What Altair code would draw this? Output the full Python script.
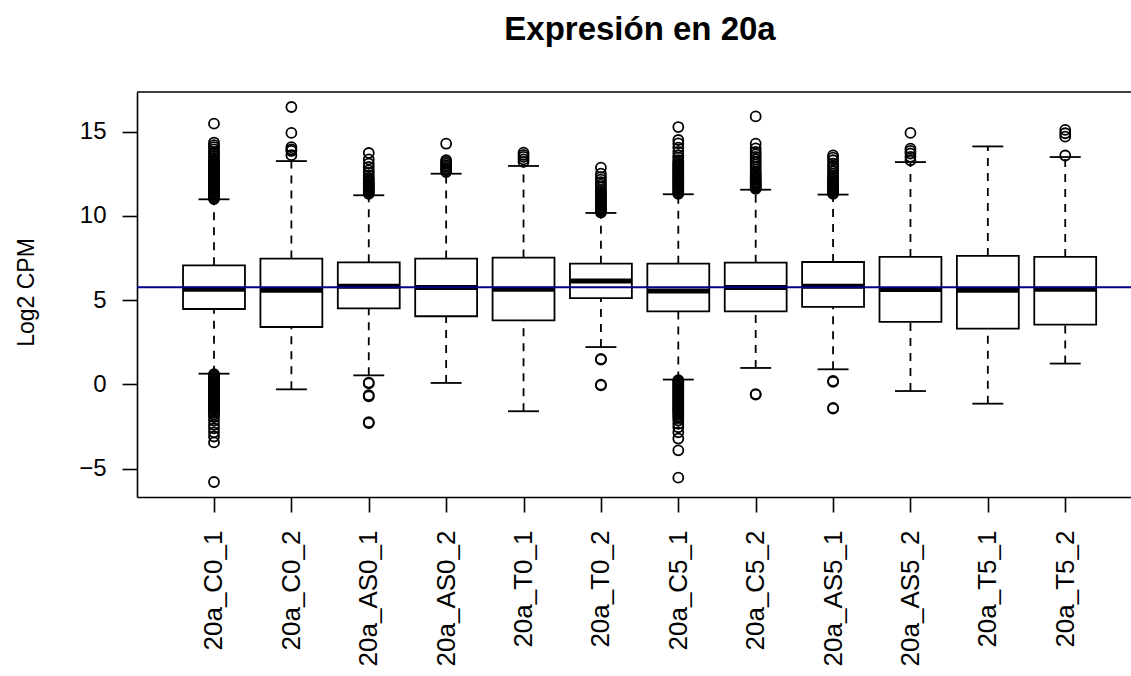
import altair as alt
import pandas as pd

# Samples and their box statistics (log2 CPM)
samples = ["20a_C0_1", "20a_C0_2", "20a_AS0_1", "20a_AS0_2", "20a_T0_1", "20a_T0_2",
           "20a_C5_1", "20a_C5_2", "20a_AS5_1", "20a_AS5_2", "20a_T5_1", "20a_T5_2"]
whisker_low = [0.63, -0.30, 0.53, 0.08, -1.60, 2.21, 0.28, 0.97, 0.89, -0.40, -1.15, 1.23]
q1 = [4.47, 3.40, 4.51, 4.04, 3.80, 5.12, 4.33, 4.33, 4.59, 3.70, 3.30, 3.54]
median = [5.64, 5.58, 5.82, 5.74, 5.64, 6.13, 5.54, 5.74, 5.82, 5.62, 5.58, 5.64]
q3 = [7.06, 7.46, 7.24, 7.46, 7.52, 7.16, 7.16, 7.22, 7.26, 7.56, 7.62, 7.56]
whisker_high = [10.98, 13.25, 11.22, 12.50, 12.96, 10.17, 11.28, 11.55, 11.26, 13.19, 14.12, 13.49]

# Points beyond the whiskers
outliers = {
    "20a_C0_1": [11.0, 11.08, 11.15, 11.22, 11.3, 11.37, 11.45, 11.52, 11.6, 11.68, 11.75,
                 11.83, 11.9, 11.98, 12.05, 12.12, 12.2, 12.28, 12.35, 12.43, 12.5, 12.58,
                 12.66, 12.74, 12.82, 12.9, 12.98, 13.05, 13.12, 13.2, 13.3, 13.42, 13.55,
                 13.7, 13.8, 13.95, 14.08, 14.2, 14.35, 15.47,
                 0.6, 0.52, 0.45, 0.37, 0.3, 0.22, 0.15, 0.07, 0.0, -0.08, -0.15, -0.23,
                 -0.3, -0.38, -0.45, -0.53, -0.6, -0.68, -0.75, -0.83, -0.9, -0.98, -1.05,
                 -1.13, -1.2, -1.28, -1.35, -1.43, -1.5, -1.6, -1.7, -1.8, -1.94, -2.15,
                 -2.4, -2.62, -2.85, -3.1, -3.45, -5.8],
    "20a_C0_2": [13.6, 13.85, 13.95, 14.08, 14.92, 16.46],
    "20a_AS0_1": [11.3, 11.38, 11.45, 11.53, 11.6, 11.68, 11.75, 11.83, 11.9, 11.98, 12.05,
                  12.15, 12.25, 12.4, 12.55, 12.7, 12.9, 13.1, 13.35, 13.73,
                  0.1, 0.05, -0.65, -0.71, -2.25, -2.3],
    "20a_AS0_2": [12.6, 12.7, 12.8, 12.9, 13.0, 13.1, 13.2, 13.3, 14.28],
    "20a_T0_1": [13.2, 13.35, 13.5, 13.62, 13.75],
    "20a_T0_2": [10.2, 10.28, 10.35, 10.43, 10.5, 10.58, 10.65, 10.73, 10.8, 10.88, 10.95,
                 11.03, 11.1, 11.18, 11.25, 11.35, 11.45, 11.55, 11.7, 11.85, 12.0, 12.15,
                 12.3, 12.5, 12.86, 1.46, 1.5, -0.06, -0.02],
    "20a_C5_1": [11.3, 11.38, 11.45, 11.53, 11.6, 11.68, 11.75, 11.83, 11.9, 11.98, 12.05,
                 12.13, 12.2, 12.28, 12.35, 12.43, 12.5, 12.58, 12.65, 12.73, 12.8, 12.88,
                 12.95, 13.03, 13.1, 13.2, 13.3, 13.45, 13.6, 13.8, 14.05, 14.3, 14.5, 15.27,
                 0.25, 0.17, 0.1, 0.02, -0.05, -0.13, -0.2, -0.28, -0.35, -0.43, -0.5, -0.58,
                 -0.65, -0.73, -0.8, -0.88, -0.95, -1.03, -1.1, -1.18, -1.25, -1.33, -1.4,
                 -1.48, -1.55, -1.63, -1.7, -1.8, -1.9, -2.0, -2.15, -2.35, -2.55, -2.85,
                 -3.22, -3.92, -5.54],
    "20a_C5_2": [11.6, 11.68, 11.75, 11.83, 11.9, 11.98, 12.05, 12.13, 12.2, 12.3, 12.4,
                 12.5, 12.6, 12.75, 12.9, 13.05, 13.2, 13.35, 13.5, 13.65, 13.8, 14.0, 14.28,
                 15.9, -0.61, -0.58],
    "20a_AS5_1": [11.3, 11.38, 11.45, 11.53, 11.6, 11.68, 11.75, 11.83, 11.9, 11.98, 12.05,
                  12.15, 12.25, 12.35, 12.5, 12.65, 12.8, 12.95, 13.1, 13.3, 13.45, 13.59,
                  0.14, 0.2, -1.44, -1.4],
    "20a_AS5_2": [13.3, 13.5, 13.7, 13.85, 13.99, 14.92],
    "20a_T5_1": [],
    "20a_T5_2": [13.58, 14.7, 14.9, 15.1],
}

reference_level = 5.76
chart_title = "Expresión en 20a"
y_title = "Log2 CPM"

BOX_HALF = 0.4
STAPLE_HALF = 0.2
PLOT_W, PLOT_H = 994, 405
FONT = "Liberation Sans"

stats = pd.DataFrame({
    "sample": samples,
    "pos": list(range(1, len(samples) + 1)),
    "lo": whisker_low, "q1": q1, "med": median, "q3": q3, "hi": whisker_high,
})
stats["bl"] = stats["pos"] - BOX_HALF
stats["br"] = stats["pos"] + BOX_HALF
stats["sl"] = stats["pos"] - STAPLE_HALF
stats["sr"] = stats["pos"] + STAPLE_HALF

out_rows = [{"pos": samples.index(s) + 1, "value": v} for s, vals in outliers.items() for v in vals]
out_df = pd.DataFrame(out_rows)

xsc = alt.Scale(domain=[0.005, 12.85], nice=False, zero=False)
ysc = alt.Scale(domain=[-6.69, 17.35], nice=False, zero=False)

label_array = "[" + ",".join("'%s'" % s for s in samples) + "]"
x_axis = alt.Axis(
    values=list(range(1, len(samples) + 1)), labelExpr=label_array + "[datum.value - 1]",
    title=None, grid=False, tickSize=15, tickWidth=1.6, tickColor="black",
    domainColor="black", domainWidth=1.6, labelAngle=270, labelAlign="right",
    labelBaseline="middle", labelPadding=18, labelFontSize=26, labelFont=FONT,
    labelColor="black", labelOverlap=False, labelBound=False,
)
y_axis = alt.Axis(
    values=[-5, 0, 5, 10, 15], title=y_title, grid=False, tickSize=15, tickWidth=1.6,
    tickColor="black", domainColor="black", domainWidth=1.6, labelPadding=16,
    labelFontSize=24, labelFont=FONT, labelColor="black",
    titleFontSize=23, titleFont=FONT, titleFontWeight="normal", titleColor="black",
    titleAngle=270, titleX=-104, titleY=200, titleAlign="center", titleBaseline="alphabetic",
)

base = alt.Chart(stats)

whisk_up = base.mark_rule(color="black", strokeWidth=1.8, strokeDash=[8, 7]).encode(
    x=alt.X("pos:Q", scale=xsc, axis=x_axis),
    y=alt.Y("q3:Q", scale=ysc, axis=y_axis), y2="hi:Q")
whisk_dn = base.mark_rule(color="black", strokeWidth=1.8, strokeDash=[8, 7]).encode(
    x=alt.X("pos:Q", scale=xsc), y=alt.Y("lo:Q", scale=ysc), y2="q1:Q")
staple_hi = base.mark_rule(color="black", strokeWidth=1.8).encode(
    x=alt.X("sl:Q", scale=xsc), x2="sr:Q", y=alt.Y("hi:Q", scale=ysc))
staple_lo = base.mark_rule(color="black", strokeWidth=1.8).encode(
    x=alt.X("sl:Q", scale=xsc), x2="sr:Q", y=alt.Y("lo:Q", scale=ysc))
boxes = base.mark_rect(fill="white", stroke="black", strokeWidth=1.8).encode(
    x=alt.X("bl:Q", scale=xsc), x2="br:Q", y=alt.Y("q1:Q", scale=ysc), y2="q3:Q")
medians = base.mark_rule(color="black", strokeWidth=5).encode(
    x=alt.X("bl:Q", scale=xsc), x2="br:Q", y=alt.Y("med:Q", scale=ysc))

points = alt.Chart(out_df).mark_point(
    shape="circle", filled=False, color="black", size=100, strokeWidth=1.8, opacity=1
).encode(x=alt.X("pos:Q", scale=xsc), y=alt.Y("value:Q", scale=ysc))

one = pd.DataFrame({"level": [reference_level]})
ref_line = alt.Chart(one).mark_rule(color="#00008B", strokeWidth=1.8).encode(
    y=alt.Y("level:Q", scale=ysc), x=alt.value(0), x2=alt.value(PLOT_W))

top_border = alt.Chart(one).mark_rule(color="black", strokeWidth=1.6).encode(
    y=alt.value(0), x=alt.value(0), x2=alt.value(PLOT_W))

title_text = alt.Chart(one).mark_text(
    text=chart_title, font=FONT, fontSize=33, fontWeight="bold", color="black",
    align="center", baseline="alphabetic"
).encode(x=alt.value(503), y=alt.value(-52))

chart = alt.layer(
    whisk_up, whisk_dn, staple_hi, staple_lo, boxes, medians, points,
    ref_line, top_border, title_text
).properties(
    width=PLOT_W, height=PLOT_H,
    autosize=alt.AutoSizeParams(type="none"),
    padding={"left": 137, "top": 92, "right": 0, "bottom": 179},
    background="white",
).configure_view(stroke=None)

chart.save("out.html", embed_options={"renderer": "svg", "actions": False})
